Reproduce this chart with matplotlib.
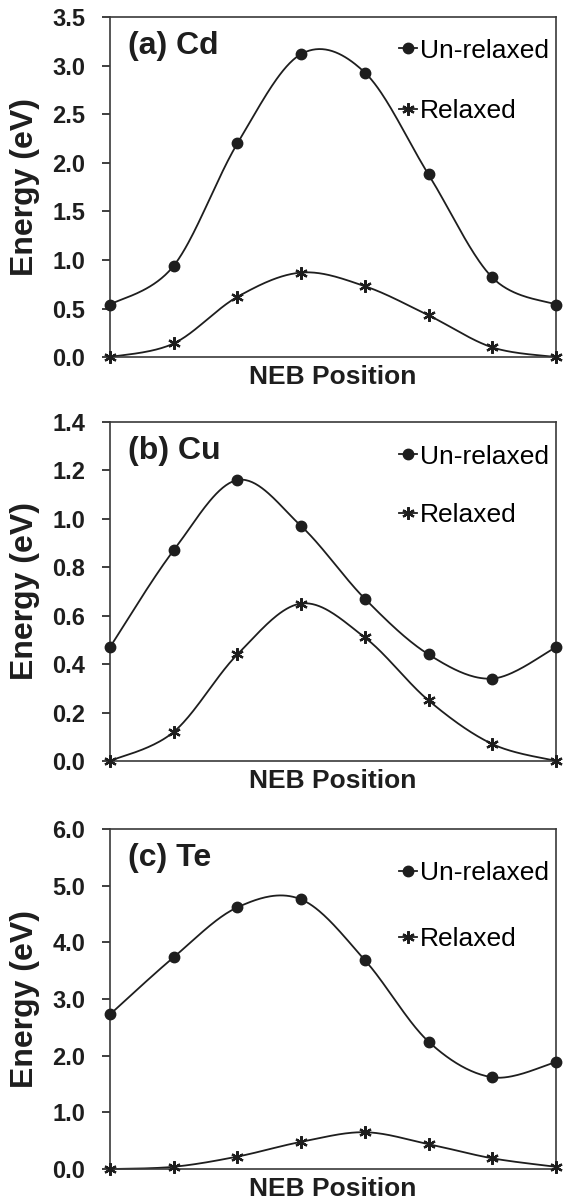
import matplotlib
matplotlib.use("Agg")
import matplotlib.pyplot as plt
import numpy as np

plt.rcParams['font.family'] = ['Liberation Sans', 'DejaVu Sans']

# NEB images 0..7
neb = [0, 1, 2, 3, 4, 5, 6, 7]

cd_unrelaxed = [0.54, 0.94, 2.20, 3.12, 2.93, 1.88, 0.82, 0.54]
cd_relaxed = [0.00, 0.14, 0.62, 0.87, 0.73, 0.43, 0.10, 0.00]

cu_unrelaxed = [0.47, 0.87, 1.16, 0.97, 0.67, 0.44, 0.34, 0.47]
cu_relaxed = [0.00, 0.12, 0.44, 0.65, 0.51, 0.25, 0.07, 0.00]

te_unrelaxed = [2.73, 3.74, 4.62, 4.76, 3.69, 2.25, 1.62, 1.89]
te_relaxed = [0.00, 0.04, 0.22, 0.48, 0.65, 0.44, 0.19, 0.04]

panel_labels = ["(a) Cd", "(b) Cu", "(c) Te"]
y_max = [3.5, 1.4, 6.0]
y_step = [0.5, 0.2, 1.0]

ink = "#1e1e1e"


def smooth(x, y, n=40):
    # excel style smoothed line (catmull-rom through the points)
    x = np.asarray(x, float)
    y = np.asarray(y, float)
    px = np.concatenate([[x[0]], x, [x[-1]]])
    py = np.concatenate([[y[0]], y, [y[-1]]])
    xs, ys = [], []
    t = np.linspace(0, 1, n)
    for i in range(1, len(px) - 2):
        x0, x1, x2, x3 = px[i - 1:i + 3]
        y0, y1, y2, y3 = py[i - 1:i + 3]
        bx = [x1, x1 + (x2 - x0) / 6, x2 - (x3 - x1) / 6, x2]
        by = [y1, y1 + (y2 - y0) / 6, y2 - (y3 - y1) / 6, y2]
        xs.append((1 - t)**3 * bx[0] + 3 * (1 - t)**2 * t * bx[1] + 3 * (1 - t) * t**2 * bx[2] + t**3 * bx[3])
        ys.append((1 - t)**3 * by[0] + 3 * (1 - t)**2 * t * by[1] + 3 * (1 - t) * t**2 * by[2] + t**3 * by[3])
    return np.concatenate(xs), np.concatenate(ys)


fig = plt.figure(figsize=(5.63, 12.01), dpi=100)
boxes = [[0.1954, 0.7027, 0.792, 0.283],
         [0.1954, 0.3664, 0.792, 0.2823],
         [0.1954, 0.0266, 0.792, 0.283]]
legend_tops = [0.937, 0.933, 0.907]
legend_gap = [1.37, 1.32, 1.6]

data = [(cd_unrelaxed, cd_relaxed), (cu_unrelaxed, cu_relaxed), (te_unrelaxed, te_relaxed)]

asterisk = (6, 2, 0)

for k in range(3):
    ax = fig.add_axes(boxes[k])
    un, rel = data[k]

    sx, sy = smooth(neb, un)
    ax.plot(sx, sy, color=ink, lw=1.3, clip_on=False)
    ax.plot(neb, un, ls='none', marker='o', ms=7.5, color=ink, clip_on=False, zorder=3)
    sx, sy = smooth(neb, rel)
    ax.plot(sx, sy, color=ink, lw=1.3, clip_on=False)
    ax.plot(neb, rel, ls='none', marker=asterisk, ms=9, mew=1.6, color=ink, clip_on=False, zorder=3)

    # legend proxies
    h1, = ax.plot([], [], color=ink, lw=1.3, marker='o', ms=7.5, label='Un-relaxed')
    h2, = ax.plot([], [], color=ink, lw=1.3, marker=asterisk, ms=9, mew=1.6, label='Relaxed')
    ax.legend(handles=[h1, h2], loc='upper left', bbox_to_anchor=(0.648, legend_tops[k]),
              frameon=False, fontsize=19, handlelength=0.7, handletextpad=0.1,
              labelspacing=legend_gap[k], borderpad=0, borderaxespad=0, markerscale=1)

    ax.set_xlim(0, 7)
    ax.set_ylim(0, y_max[k])
    ticks = np.arange(0, y_max[k] + y_step[k] / 2, y_step[k])
    ax.set_yticks(ticks)
    ax.set_yticklabels(["%.1f" % v for v in ticks])
    ax.set_xticks([])
    ax.tick_params(axis='y', direction='out', length=6, width=1.2, pad=12,
                   labelsize=17, colors=ink)
    for lab in ax.get_yticklabels():
        lab.set_fontweight('bold')
    for s in ax.spines.values():
        s.set_color("#3a3a3a")
        s.set_linewidth(1.2)

    ax.set_ylabel("Energy (eV)", fontsize=23, fontweight='bold', color=ink, labelpad=9)
    ax.set_xlabel("NEB Position", fontsize=19, fontweight='bold', color=ink, labelpad=6)
    ax.text(0.04, 0.915, panel_labels[k], transform=ax.transAxes, fontsize=23,
            fontweight='bold', color=ink, va='center', ha='left')

fig.savefig("out.png", dpi=100)
